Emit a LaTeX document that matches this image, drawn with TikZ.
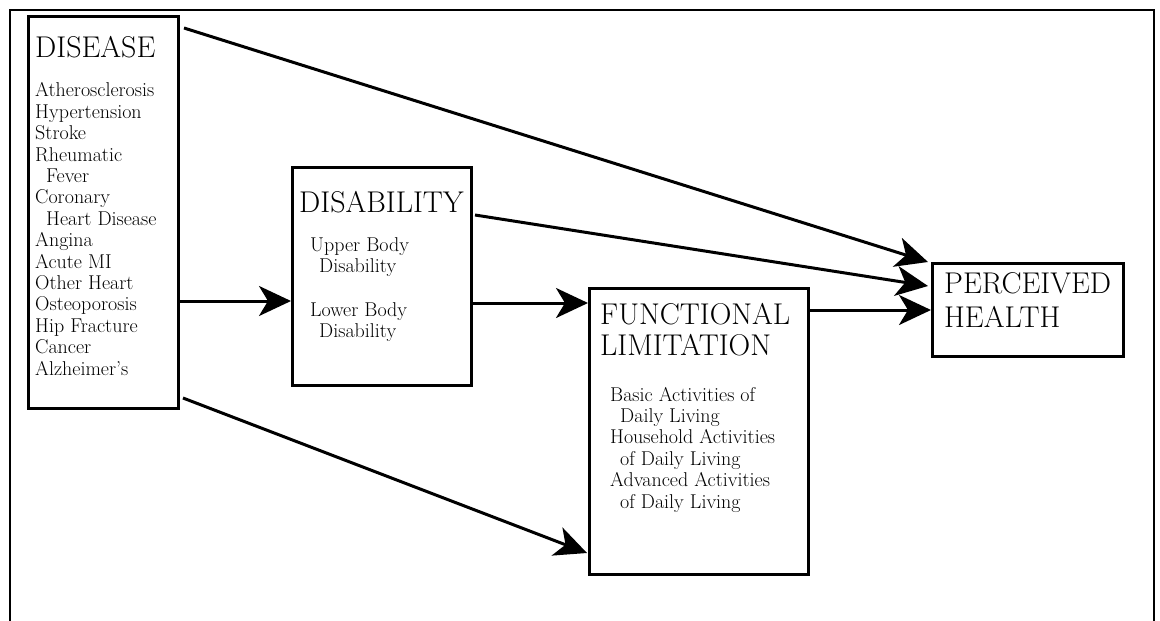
\documentclass[tikz,border=0pt]{standalone}
\usetikzlibrary{arrows.meta,calc}
\begin{document}
\begin{tikzpicture}[x=1pt,y=-1pt,
  box/.style={draw,line width=3pt,rectangle,inner sep=0pt,anchor=north west},
  arr/.style={line width=3pt,-{Stealth[length=32pt,width=30pt,inset=9pt]}},
  title/.style={inner sep=0pt,anchor=base west,align=left,font=\fontsize{30}{31}\selectfont},
  body/.style={inner sep=0pt,anchor=base west,align=left,font=\fontsize{20}{21.4}\selectfont}]
\useasboundingbox (0,0) rectangle (1160,621);
% open frame around the figure
\draw[line width=1.5pt] (10,621) -- (10,10) -- (1154,10) -- (1154,621);

% boxes
\node[box,minimum width=150pt,minimum height=392pt] (disease) at (27,15) {};
\node[box,minimum width=179pt,minimum height=218pt] (disab) at (291,166) {};
\node[box,minimum width=219pt,minimum height=286pt] (func) at (588,287) {};
\node[box,minimum width=191pt,minimum height=93pt] (perc) at (931,262) {};

% titles and items (anchored at the baseline of the last line)
\node[title] (diseaseT) at (35,57) {DISEASE};
\node[body] (diseaseL) at (35,375) {Atherosclerosis\\Hypertension\\Stroke\\Rheumatic\\\hspace*{11pt}Fever\\Coronary\\\hspace*{11pt}Heart Disease\\Angina\\Acute MI\\Other Heart\\Osteoporosis\\Hip Fracture\\Cancer\\Alzheimer's};
\node[title] (disabT) at (299,212) {DISABILITY};
\node[body,font=\fontsize{20}{20.5}\selectfont] (disabU) at (310,272) {Upper Body\\\hspace*{9pt}Disability};
\node[body,font=\fontsize{20}{20.5}\selectfont] (disabL) at (310,337) {Lower Body\\\hspace*{9pt}Disability};
\node[title] (funcT) at (600,355) {FUNCTIONAL\\LIMITATION};
\node[body] (funcL) at (610,508) {Basic Activities of\\\hspace*{10pt}Daily Living\\Household Activities\\\hspace*{10pt}of Daily Living\\Advanced Activities\\\hspace*{10pt}of Daily Living};
\node[title,font=\fontsize{30}{34}\selectfont] (percT) at (944,327) {PERCEIVED\\HEALTH};

% connectors
\coordinate (disabIn) at ($(disab.north west)+(0,135)$);
\coordinate (funcIn) at ($(func.north west)+(0,16)$);
\draw[arr] ($(disease.north east)+(4,13)$) -- ($(perc.north west)+(-3,0)$);
\draw[arr] ($(disab.north east)+(2,49)$) -- ($(perc.west)+(-3,-24)$);
\draw[arr] (func.east |- perc.west) -- (perc.west);
\draw[arr] (disease.east |- disabIn) -- (disabIn);
\draw[arr] (disab.east |- funcIn) -- (funcIn);
\draw[arr] ($(disease.south east)+(3,-12)$) -- ($(func.south west)+(-1,-23)$);
\end{tikzpicture}
\end{document}
